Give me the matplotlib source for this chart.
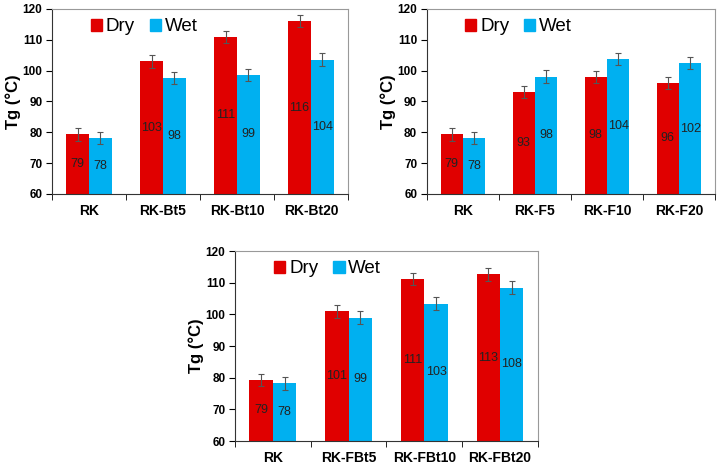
import numpy as np
from matplotlib import pyplot as plt
from matplotlib.patches import Patch

plt.rcParams['font.family'] = ['Liberation Sans', 'DejaVu Sans']

# data
cats_bt = ['RK', 'RK-Bt5', 'RK-Bt10', 'RK-Bt20']
dry_bt = [79.3, 103.0, 111.0, 116.0]
wet_bt = [78.2, 97.7, 98.6, 103.6]
lab_dry_bt = ['79', '103', '111', '116']
lab_wet_bt = ['78', '98', '99', '104']

cats_f = ['RK', 'RK-F5', 'RK-F10', 'RK-F20']
dry_f = [79.3, 93.0, 98.0, 96.0]
wet_f = [78.2, 98.1, 103.8, 102.4]
lab_dry_f = ['79', '93', '98', '96']
lab_wet_f = ['78', '98', '104', '102']

cats_fbt = ['RK', 'RK-FBt5', 'RK-FBt10', 'RK-FBt20']
dry_fbt = [79.3, 101.0, 111.2, 112.6]
wet_fbt = [78.2, 99.0, 103.4, 108.4]
lab_dry_fbt = ['79', '101', '111', '113']
lab_wet_fbt = ['78', '99', '103', '108']

err = 2.0
red = '#E00000'
blue = '#00B0F0'


def panel(ax, cats, dry, wet, lab_dry, lab_wet, width_px):
    x = np.arange(len(cats))
    w = 0.31
    ax.bar(x - w / 2, dry, w, color=red, yerr=err, capsize=2.5,
           error_kw=dict(ecolor='#555555', elinewidth=0.8, capthick=0.8))
    ax.bar(x + w / 2, wet, w, color=blue, yerr=err, capsize=2.5,
           error_kw=dict(ecolor='#555555', elinewidth=0.8, capthick=0.8))
    for i in range(len(cats)):
        ax.text(x[i] - w / 2, (60 + dry[i]) / 2, lab_dry[i], ha='center',
                va='center', fontsize=9, color='#222222')
        ax.text(x[i] + w / 2, (60 + wet[i]) / 2, lab_wet[i], ha='center',
                va='center', fontsize=9, color='#222222')
    ax.set_xlim(-0.5, len(cats) - 0.5)
    ax.set_ylim(60, 120)
    ax.set_yticks(range(60, 121, 10))
    ax.set_xticks(x)
    ax.set_xticklabels(cats, fontweight='bold', fontsize=10)
    ax.set_xticks(np.arange(-0.5, len(cats), 1), minor=True)
    ax.tick_params(axis='x', which='major', length=0, pad=7)
    ax.tick_params(axis='x', which='minor', length=4, direction='out')
    ax.tick_params(axis='y', length=4, direction='out', labelsize=8.5, pad=3)
    for t in ax.get_yticklabels():
        t.set_fontweight('bold')
    ax.set_ylabel('Tg (°C)', fontweight='bold', fontsize=12)
    ax.yaxis.set_label_coords(-31.0 / width_px, 0.5)
    for s in ['top', 'right']:
        ax.spines[s].set_color('#999999')
        ax.spines[s].set_linewidth(0.8)
    for s in ['left', 'bottom']:
        ax.spines[s].set_color('#333333')
        ax.spines[s].set_linewidth(0.8)
    handles = [Patch(color=red, label='Dry'), Patch(color=blue, label='Wet')]
    ax.legend(handles=handles, loc='upper left', bbox_to_anchor=(0.08, 1.03),
              ncol=2, frameon=False, fontsize=13.5, handlelength=0.6,
              handleheight=0.6, handletextpad=0.2, columnspacing=0.8,
              borderpad=0.3)


fig = plt.figure(figsize=(7.28, 4.66), dpi=100)
ax1 = fig.add_axes([0.0714, 0.5837, 0.4066, 0.397])
ax2 = fig.add_axes([0.5865, 0.5837, 0.3956, 0.397])
ax3 = fig.add_axes([0.3228, 0.0536, 0.416, 0.4077])

panel(ax1, cats_bt, dry_bt, wet_bt, lab_dry_bt, lab_wet_bt, 296)
panel(ax2, cats_f, dry_f, wet_f, lab_dry_f, lab_wet_f, 288)
panel(ax3, cats_fbt, dry_fbt, wet_fbt, lab_dry_fbt, lab_wet_fbt, 303)

plt.savefig('out.png', dpi=100)
